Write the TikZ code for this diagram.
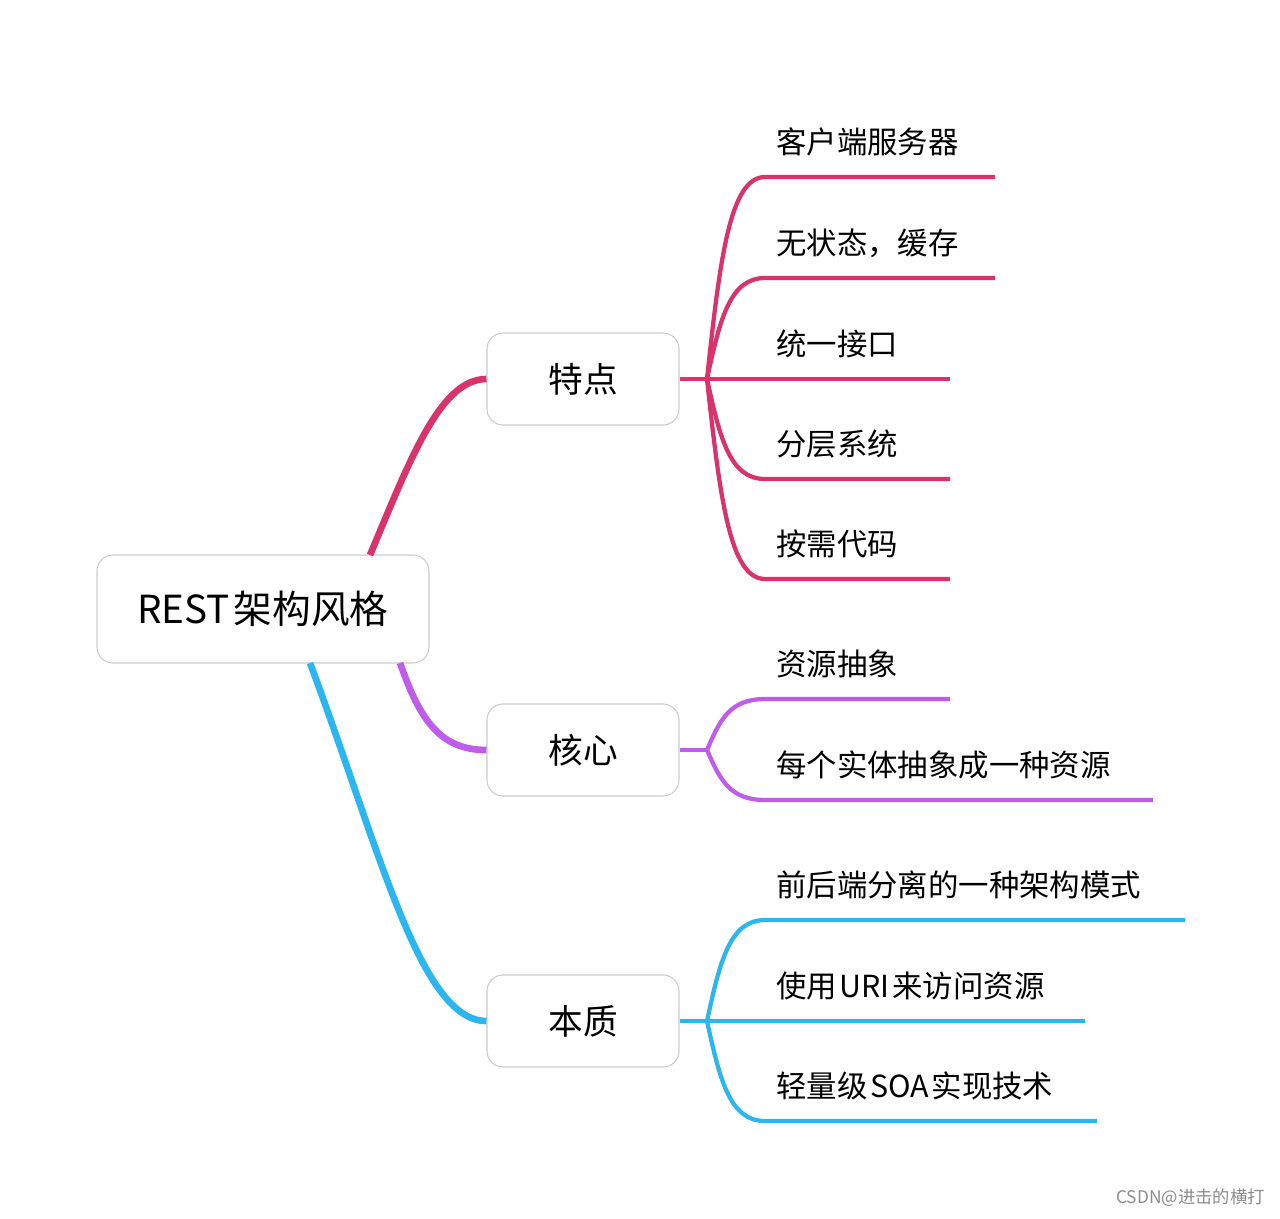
\documentclass[tikz,border=0pt]{standalone}
\usepackage{fontspec}
\setmainfont{Noto Sans CJK SC}
\begin{document}
\begin{tikzpicture}[x=0.75pt,y=-0.75pt]
\definecolor{cred}{HTML}{D9336B}
\definecolor{cpur}{HTML}{BF5CEB}
\definecolor{ccyan}{HTML}{2CB6F0}
\useasboundingbox (0,0) rectangle (1280,1218);
\tikzset{box/.style={draw=black!20,line width=0.8pt,rounded corners=12pt,fill=white,inner sep=0pt},
 lbl/.style={anchor=west,font=\fontsize{22.8}{25}\selectfont,inner sep=0pt},
 br/.style={line width=5pt},
 lf/.style={line width=3.2pt}}
\coordinate (r1) at (370,555);
\coordinate (r2) at (400,663);
\coordinate (r3) at (310,663);
\node[box,minimum width=249pt,minimum height=81pt,font=\fontsize{29}{32}\selectfont] (root) at (263,609) {REST\hspace{3pt}架构风格};
\node[box,minimum width=144pt,minimum height=69pt,font=\fontsize{26}{28}\selectfont] (a) at (583,379) {特点};
\node[box,minimum width=144pt,minimum height=69pt,font=\fontsize{26}{28}\selectfont] (b) at (583,750) {核心};
\node[box,minimum width=144pt,minimum height=69pt,font=\fontsize{26}{28}\selectfont] (c) at (583,1021) {本质};
\draw[br,cred] (r1) .. controls (410,460) and (440,379) .. (a.west);
\draw[br,cpur] (r2) .. controls (420,720) and (440,750) .. (b.west);
\draw[br,ccyan] (r3) .. controls (380,850) and (420,1021) .. (c.west);
\coordinate (pa) at (707,379);
\coordinate (pb) at (707,750);
\coordinate (pc) at (707,1021);
\draw[lf,cred] (a.east) -- (pa);
\draw[lf,cpur] (b.east) -- (pb);
\draw[lf,ccyan] (c.east) -- (pc);
\foreach \y/\e/\t/\n in {177/995/客户端服务器/a1,278/995/{无状态，缓存}/a2,379/950/统一接口/a3,479/950/分层系统/a4,579/950/按需代码/a5}{
  \coordinate (\n) at (\e,\y);
  \draw[lf,cred] (pa) .. controls (720,{379+(\y-379)*0.6}) and (730,\y) .. (765,\y) -- (\n);
  \node[lbl] at (776,\y-35) {\t};
}
\foreach \y/\e/\t/\n in {699/950/资源抽象/b1,800/1153/每个实体抽象成一种资源/b2}{
  \coordinate (\n) at (\e,\y);
  \draw[lf,cpur] (pb) .. controls (720,{750+(\y-750)*0.6}) and (730,\y) .. (765,\y) -- (\n);
  \node[lbl] at (776,\y-35) {\t};
}
\foreach \y/\e/\t/\n in {920/1185/前后端分离的一种架构模式/c1,1021/1085/{使用\hspace{2pt}URI\hspace{2pt}来访问资源}/c2,1121/1097/{轻量级\hspace{2pt}SOA\hspace{2pt}实现技术}/c3}{
  \coordinate (\n) at (\e,\y);
  \draw[lf,ccyan] (pc) .. controls (720,{1021+(\y-1021)*0.6}) and (730,\y) .. (765,\y) -- (\n);
  \node[lbl] at (776,\y-35) {\t};
}
\node[anchor=east,text=black!45,font=\fontsize{13}{15}\selectfont,inner sep=0pt] (wm) at (1265,1198) {CSDN@进击的横打};
\end{tikzpicture}
\end{document}
